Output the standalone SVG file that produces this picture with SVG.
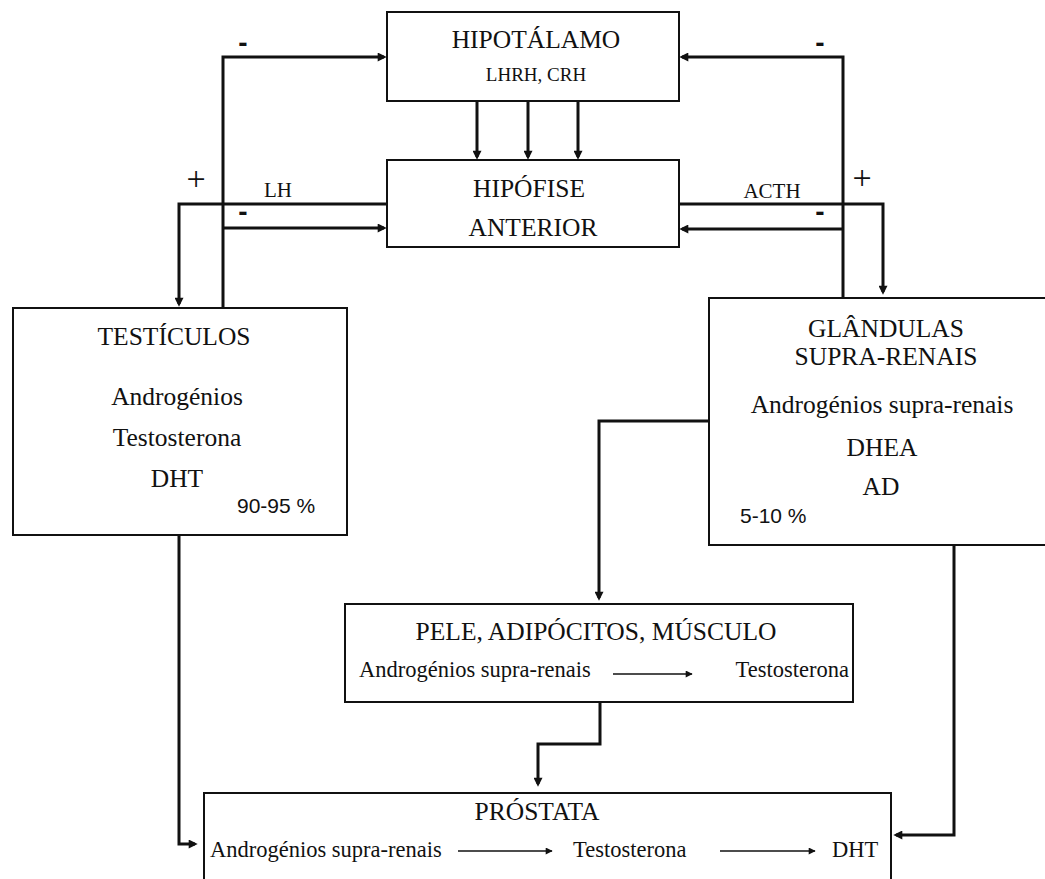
<svg xmlns="http://www.w3.org/2000/svg" width="1045" height="879" viewBox="0 0 1045 879">
<style>
.box{fill:#fff;stroke:#111;stroke-width:2}
.t{font-family:"Liberation Serif","Times New Roman",serif;fill:#111;text-anchor:middle}
.big{font-size:25.5px}
.mid{font-size:22.5px}
.sm{font-size:19px}
.pct{font-family:"Liberation Sans",Arial,sans-serif;font-size:21px;fill:#111}
.con{fill:none;stroke:#111;stroke-width:3}
.thin{fill:none;stroke:#111;stroke-width:1.6}
.sign{font-family:"Liberation Sans",Arial,sans-serif;font-weight:bold;font-size:28px;fill:#111;text-anchor:middle}
.plus{font-family:"Liberation Serif",serif;font-size:34px;fill:#111;text-anchor:middle}
</style>
<defs>
<marker id="arr" viewBox="0 0 10 10" markerWidth="10" markerHeight="9" refX="7" refY="5" orient="auto" markerUnits="userSpaceOnUse">
<path d="M0,0 L10,5 L0,10 z" fill="#111"/>
</marker>
<marker id="arrs" viewBox="0 0 10 10" markerWidth="10" markerHeight="7" refX="9" refY="5" orient="auto" markerUnits="userSpaceOnUse">
<path d="M0,0 L10,5 L0,10 z" fill="#111"/>
</marker>
</defs>
<rect width="1045" height="879" fill="#fff"/>

<g id="connectors">
<path class="con" d="M223,308 V57 H384" marker-end="url(#arr)"/>
<path class="con" d="M387,204 H179 V304" marker-end="url(#arr)"/>
<path class="con" d="M223,228 H384" marker-end="url(#arr)"/>
<path class="con" d="M477,101 V157" marker-end="url(#arr)"/>
<path class="con" d="M528,101 V157" marker-end="url(#arr)"/>
<path class="con" d="M578,101 V157" marker-end="url(#arr)"/>
<path class="con" d="M843,306 V57 H682" marker-end="url(#arr)"/>
<path class="con" d="M679,204 H883 V292" marker-end="url(#arr)"/>
<path class="con" d="M843,229 H682" marker-end="url(#arr)"/>
<path class="con" d="M709,421 H599 V598" marker-end="url(#arr)"/>
<path class="con" d="M179,535 V844 H195" marker-end="url(#arr)"/>
<path class="con" d="M600,702 V744 H538 V784" marker-end="url(#arr)"/>
<path class="con" d="M954,545 V835 H896" marker-end="url(#arr)"/>
<text class="sign" x="243" y="52">-</text>
<text class="sign" x="243" y="221">-</text>
<text class="sign" x="820" y="52">-</text>
<text class="sign" x="820" y="221">-</text>
<text class="plus" x="196" y="190">+</text>
<text class="plus" x="862" y="189">+</text>
<text class="t" x="278" y="197" style="font-size:21px">LH</text>
<text class="t" x="772" y="198" style="font-size:21px">ACTH</text>
</g>

<g id="hipotalamo">
<rect class="box" x="387" y="12" width="292" height="89"/>
<text class="t big" x="536" y="48">HIPOTÁLAMO</text>
<text class="t sm" x="536" y="81">LHRH, CRH</text>
</g>

<g id="hipofise">
<rect class="box" x="387" y="160" width="292" height="87"/>
<text class="t big" x="529" y="197">HIPÓFISE</text>
<text class="t big" x="533" y="236">ANTERIOR</text>
</g>

<g id="testiculos">
<rect class="box" x="13" y="308" width="334" height="227"/>
<text class="t big" x="174" y="345">TESTÍCULOS</text>
<text class="t big" x="177" y="405">Androgénios</text>
<text class="t big" x="177" y="446">Testosterona</text>
<text class="t big" x="177" y="487">DHT</text>
<text class="pct" x="237" y="513">90-95 %</text>
</g>

<g id="glandulas">
<rect class="box" x="709" y="298" width="350" height="247"/>
<text class="t big" x="886" y="337">GLÂNDULAS</text>
<text class="t big" x="886" y="365">SUPRA-RENAIS</text>
<text class="t big" x="882" y="413">Androgénios supra-renais</text>
<text class="t big" x="882" y="456">DHEA</text>
<text class="t big" x="881" y="495">AD</text>
<text class="pct" x="740" y="523">5-10 %</text>
</g>

<g id="pele">
<rect class="box" x="345" y="604" width="508" height="98"/>
<text class="t big" x="596" y="640">PELE, ADIPÓCITOS, MÚSCULO</text>
<text class="t mid" x="359" y="677" style="text-anchor:start">Androgénios supra-renais</text>
<path class="thin" d="M613,674 H692" marker-end="url(#arrs)"/>
<text class="t mid" x="849" y="677" style="text-anchor:end">Testosterona</text>
</g>

<g id="prostata">
<rect class="box" x="204" y="793" width="687" height="110"/>
<text class="t big" x="537" y="820">PRÓSTATA</text>
<text class="t mid" x="210" y="857" style="text-anchor:start">Androgénios supra-renais</text>
<path class="thin" d="M458,851 H552" marker-end="url(#arrs)"/>
<text class="t mid" x="573" y="857" style="text-anchor:start">Testosterona</text>
<path class="thin" d="M720,851 H815" marker-end="url(#arrs)"/>
<text class="t mid" x="832" y="857" style="text-anchor:start">DHT</text>
</g>
</svg>
